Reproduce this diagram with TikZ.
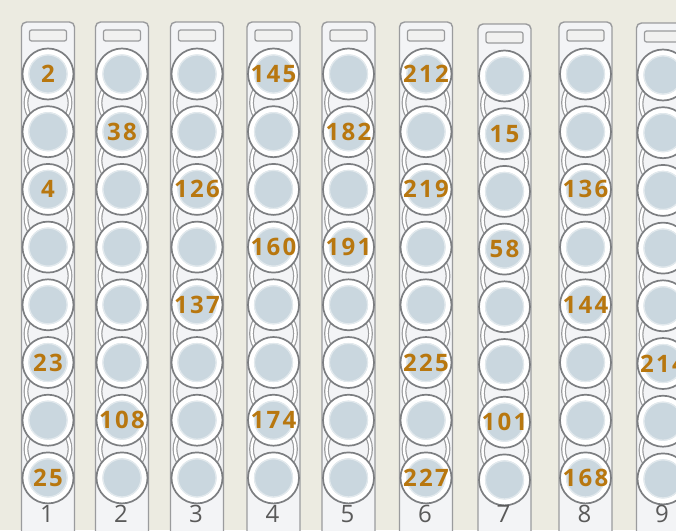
\documentclass[tikz,border=0pt]{standalone}
\usepackage{fontspec}
\setsansfont{Open Sans}
\newfontfamily\wellfont[LetterSpace=10]{Open Sans}
\usetikzlibrary{positioning,calc}
\definecolor{Bench}{HTML}{ECEBE1}
\definecolor{StripFill}{HTML}{F3F4F6}
\definecolor{StripLine}{HTML}{9A9B9D}
\definecolor{WellLine}{HTML}{7C7E81}
\definecolor{WellFill}{HTML}{CAD7DF}
\definecolor{Amber}{HTML}{B8770F}
\definecolor{Ink}{HTML}{5A5A5A}

\begin{document}
\begin{tikzpicture}[x=1pt,y=-1pt,
  strip/.style={fill=StripFill,draw=StripLine,line width=1.4pt,rounded corners=5pt},
  slot/.style={fill=StripFill!70!Bench,draw=StripLine,line width=1.2pt,rounded corners=2pt},
  link/.style={draw=StripLine,double=white,double distance=2.4pt,line width=1.2pt},
  well/.style={circle,minimum size=51pt,inner sep=0pt,fill=white,draw=WellLine,line width=1.7pt,
    path picture={\fill[WellFill] (path picture bounding box.center) circle (19.5pt);
      \draw[WellFill!55!white,line width=1.2pt] (path picture bounding box.center) circle (19pt);}},
  tag/.style={text=Amber,font=\wellfont\bfseries\fontsize{24}{24}\selectfont,inner sep=0pt},
  stripnum/.style={text=Ink,font=\sffamily\fontsize{24}{24}\selectfont,inner sep=0pt}]
\useasboundingbox (0,0) rectangle (676,530);
\fill[Bench] (0,0) rectangle (676,530);
\clip (0,0) rectangle (676,530);
% strips: number / centre / vertical shift
\foreach \c/\x/\d in {1/48/0,2/122/0,3/197/0,4/273.5/0,5/348.5/0,6/426/0,7/504.5/2,8/585.5/0,9/663/1}{
  \draw[strip] (\x-26.5,22+\d) rectangle (\x+26.5,570);
  \draw[slot] (\x-18.5,30+\d) rectangle (\x+18.5,41+\d);
  \foreach \r in {1,...,7}
    \draw[link] (\x,{74+57.7*(\r-0.5)+\d}) ellipse [x radius=22pt,y radius=24pt];
  \foreach \r in {1,...,8}
    \node[well] (w\c-\r) at (\x,{74+57.7*(\r-1)+\d}) {};
  \node[stripnum] (n\c) at (\x-1,514) {\c};
}
% sample numbers
\foreach \c/\r/\n in {1/1/2,1/3/4,1/6/23,1/8/25,2/2/38,2/7/108,3/3/126,3/5/137,
    4/1/145,4/4/160,4/7/174,5/2/182,5/4/191,6/1/212,6/3/219,6/6/225,6/8/227,
    7/2/15,7/4/58,7/7/101,8/3/136,8/5/144,8/8/168,9/6/214}
  \node[tag] (t\c-\r) at (w\c-\r) {\n};
\end{tikzpicture}
\end{document}
